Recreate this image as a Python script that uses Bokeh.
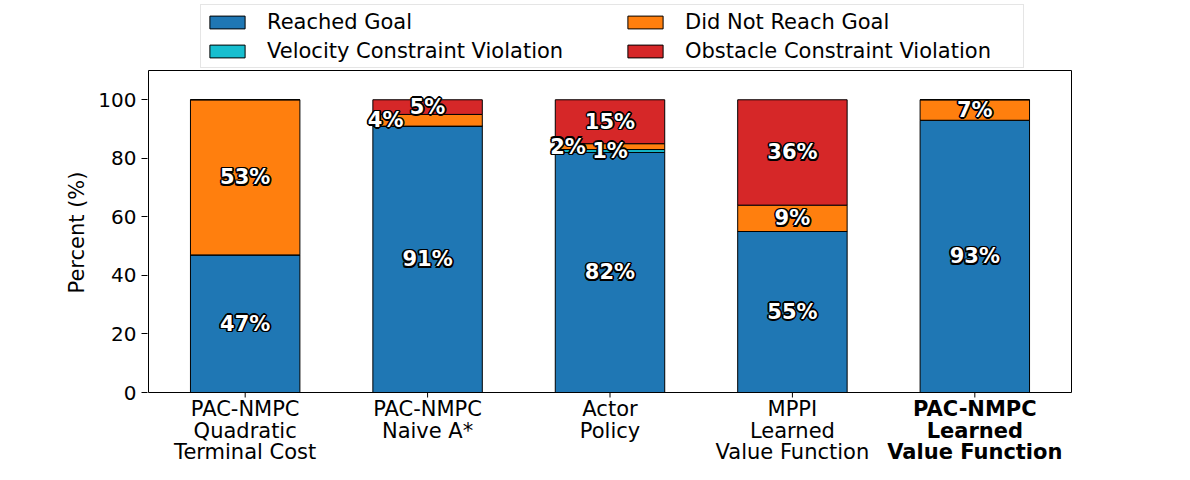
import math
from bokeh.plotting import figure
from bokeh.models import Legend, LegendItem, FixedTicker, Range1d, ColumnDataSource, BoxAnnotation
from bokeh.core.properties import value
from bokeh.embed import file_html
from bokeh.resources import INLINE

categories = ["PAC-NMPC\nQuadratic\nTerminal Cost", "PAC-NMPC\nNaive A*", "Actor\nPolicy",
              "MPPI\nLearned\nValue Function", "PAC-NMPC\nLearned\nValue Function"]
bold_category = "PAC-NMPC\nLearned\nValue Function"
reached = [47, 91, 82, 55, 93]
velocity = [0, 0, 1, 0, 0]
not_reached = [53, 4, 2, 9, 7]
obstacle = [0, 5, 15, 36, 0]
series_names = ["Reached Goal", "Velocity Constraint Violation", "Did Not Reach Goal", "Obstacle Constraint Violation"]
series_values = [reached, velocity, not_reached, obstacle]
colors = ["#1f77b4", "#17becf", "#ff7f0e", "#d62728"]
y_ticks = [0, 20, 40, 60, 80, 100]
y_min, y_max = 0, 110
x_min, x_max = -0.53, 4.53

FONT = "DejaVu Sans"
W, H = 1174, 464
BOX_L, BOX_R, BOX_T, BOX_B = 148, 1071, 70, 392   # pixel box of the axes area
FR_L, FR_R = BOX_L - 1, BOX_R + 1                   # frame slightly wider so edges show

# derive ranges so that the axes box lands at the desired pixel box
ky = (BOX_B - BOX_T) / (y_max - y_min)
y_lo = y_min - (H - BOX_B) / ky
y_hi = y_max + BOX_T / ky
kx = (BOX_R - BOX_L) / (x_max - x_min)
x_lo = x_min - (BOX_L - FR_L) / kx
x_hi = x_max + (FR_R - BOX_R) / kx

p = figure(width=W, height=H, output_backend="svg", toolbar_location=None,
           x_range=Range1d(x_lo, x_hi), y_range=Range1d(y_lo, y_hi), x_axis_type=None,
           min_border_left=FR_L, min_border_right=W - FR_R, min_border_top=0, min_border_bottom=0)
p.xgrid.visible = False
p.ygrid.visible = False
p.outline_line_color = None

xs = list(range(len(categories)))
bottoms = [0] * len(categories)
renderers = []
lab_x, lab_y, lab_t = [], [], []
for name, vals, col in zip(series_names, series_values, colors):
    tops = [b + v for b, v in zip(bottoms, vals)]
    src = ColumnDataSource(dict(x=xs, bottom=bottoms, top=tops))
    r = p.vbar(x="x", width=0.6, bottom="bottom", top="top", source=src,
               fill_color=col, line_color="black", line_width=1)
    renderers.append(r)
    for i, (b, v) in enumerate(zip(bottoms, vals)):
        if v > 0:
            shift = -0.23 if (name == "Did Not Reach Goal" and v < 5) else 0.0
            lab_x.append(i + shift)
            lab_y.append(b + v / 2)
            lab_t.append(f"{v}%")
    bottoms = tops

# axes box (spines)
p.add_layout(BoxAnnotation(left=x_min, right=x_max, bottom=y_min, top=y_max,
                           fill_color=None, fill_alpha=0.0,
                           line_color="black", line_alpha=1.0, line_width=1))

# bar value labels: white bold with a dark halo
lsrc = ColumnDataSource(dict(x=lab_x, y=lab_y, text=lab_t))
common = dict(x="x", y="y", text="text", source=lsrc, text_font=value(FONT),
              text_font_size=value("21px"), text_font_style=value("bold"),
              text_align="center", text_baseline="middle")
rr = 1.7
for dx, dy in [(-rr, 0), (rr, 0), (0, -rr), (0, rr), (-1.2, -1.2), (1.2, 1.2), (-1.2, 1.2), (1.2, -1.2)]:
    p.text(text_color="black", x_offset=dx, y_offset=dy, **common)
p.text(text_color="white", **common)

# x ticks and category labels
p.ray(x=xs, y=[y_min] * len(xs), length=5, length_units="screen", angle=-math.pi / 2,
      line_color="black", line_width=1)
for style in ["normal", "bold"]:
    tx, ty, toff, tt = [], [], [], []
    for i, c in enumerate(categories):
        if (c == bold_category) != (style == "bold"):
            continue
        for j, line in enumerate(c.split("\n")):
            tx.append(i)
            ty.append(y_min)
            toff.append(16.7 + 21.5 * j)
            tt.append(line)
    p.text(x=tx, y=ty, text=tt, y_offset=toff, text_font=value(FONT), text_font_size=value("21px"),
           text_font_style=value(style), text_color="black",
           text_align="center", text_baseline="middle")

# y axis
p.yaxis.ticker = FixedTicker(ticks=y_ticks)
p.yaxis.axis_label = "Percent (%)"
p.yaxis.axis_label_text_font = FONT
p.yaxis.axis_label_text_font_size = "21px"
p.yaxis.axis_label_text_font_style = "normal"
p.yaxis.axis_label_text_color = "black"
p.yaxis.axis_label_standoff = 6
p.yaxis.major_label_text_font = FONT
p.yaxis.major_label_text_font_size = "20px"
p.yaxis.major_label_text_color = "black"
p.yaxis.major_label_standoff = 5
p.yaxis.minor_tick_line_color = None
p.yaxis.major_tick_in = 0
p.yaxis.major_tick_out = 6
p.yaxis.axis_line_color = None

# legend: two columns drawn as two legends, the first one carries the frame
leg_bottom = H - (BOX_T - 2)
leg_style = dict(glyph_width=44, glyph_height=16, label_standoff=18, label_height=25,
                 padding=4, spacing=4, margin=0, orientation="vertical",
                 label_text_font=FONT, label_text_font_size="21px", label_text_color="black")
legA = Legend(items=[LegendItem(label=series_names[0], renderers=[renderers[0]]),
                     LegendItem(label=series_names[1], renderers=[renderers[1]])],
              location=(200 - FR_L, leg_bottom), label_width=752,
              border_line_color="#cccccc", border_line_width=1,
              background_fill_color="white", background_fill_alpha=1.0, **leg_style)
legB = Legend(items=[LegendItem(label=series_names[2], renderers=[renderers[2]]),
                     LegendItem(label=series_names[3], renderers=[renderers[3]])],
              location=(623 - FR_L, leg_bottom + 5),
              border_line_color=None, background_fill_alpha=0.0, **leg_style)
p.add_layout(legA)
p.add_layout(legB)

open("out.html", "w").write(file_html(p, INLINE))
